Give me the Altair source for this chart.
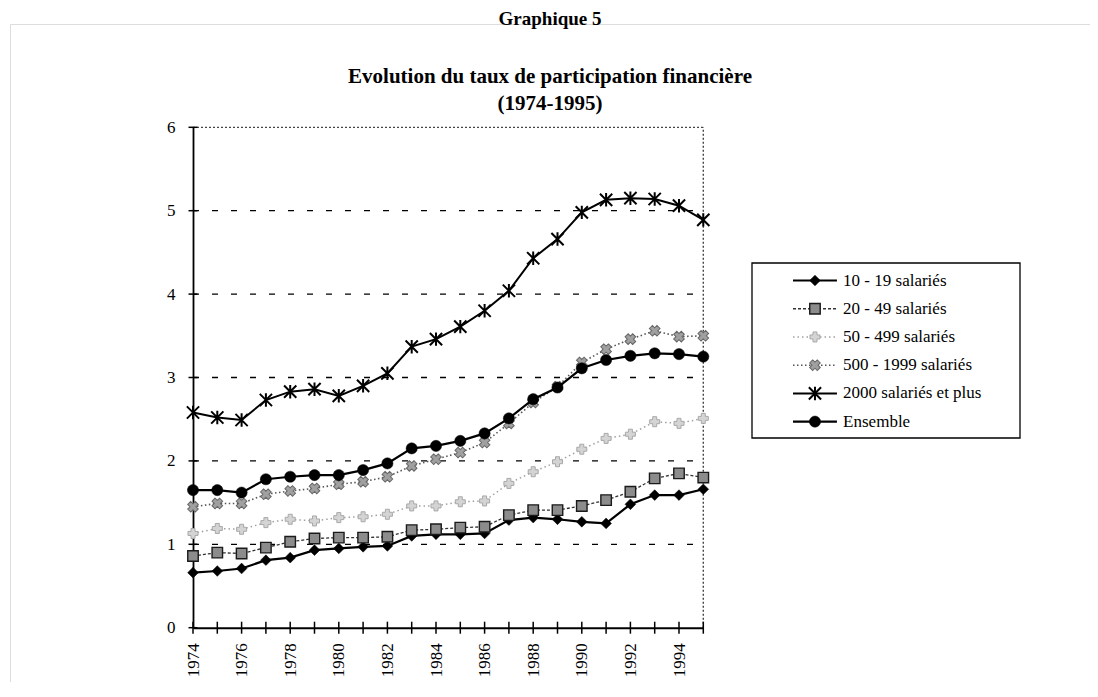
import altair as alt
import pandas as pd

# ---------------- data ----------------
years = list(range(1974, 1996))

series_names = [
    "10 - 19 salariés",
    "20 - 49 salariés",
    "50 - 499 salariés",
    "500 - 1999 salariés",
    "2000 salariés et plus",
    "Ensemble",
]

v_10_19 = [0.66, 0.68, 0.71, 0.81, 0.84, 0.93, 0.95, 0.97, 0.98, 1.10, 1.12,
           1.12, 1.13, 1.29, 1.32, 1.30, 1.27, 1.25, 1.48, 1.59, 1.59, 1.66]
v_20_49 = [0.86, 0.90, 0.89, 0.96, 1.03, 1.07, 1.08, 1.08, 1.09, 1.17, 1.18,
           1.20, 1.21, 1.35, 1.41, 1.41, 1.46, 1.53, 1.63, 1.79, 1.85, 1.80]
v_50_499 = [1.13, 1.19, 1.18, 1.26, 1.30, 1.28, 1.32, 1.33, 1.36, 1.46, 1.46,
            1.51, 1.52, 1.73, 1.87, 1.99, 2.14, 2.27, 2.32, 2.47, 2.45, 2.51]
v_500_1999 = [1.45, 1.49, 1.49, 1.60, 1.64, 1.67, 1.72, 1.75, 1.81, 1.94, 2.02,
              2.10, 2.22, 2.45, 2.70, 2.89, 3.18, 3.34, 3.46, 3.56, 3.49, 3.50]
v_2000_plus = [2.58, 2.52, 2.49, 2.73, 2.83, 2.86, 2.78, 2.90, 3.05, 3.37, 3.46,
               3.61, 3.80, 4.04, 4.43, 4.66, 4.98, 5.13, 5.15, 5.14, 5.06, 4.89]
v_ensemble = [1.65, 1.65, 1.62, 1.78, 1.81, 1.83, 1.83, 1.89, 1.97, 2.15, 2.18,
              2.24, 2.33, 2.51, 2.74, 2.88, 3.11, 3.21, 3.26, 3.29, 3.28, 3.25]

y_ticks = [0, 1, 2, 3, 4, 5, 6]
grid_values = [1, 2, 3, 4, 5]
x_label_years = list(range(1974, 1995, 2))

title_main = "Graphique 5"
title_lines = ["Evolution du taux de participation financière", "(1974-1995)"]

series_values = [v_10_19, v_20_49, v_50_499, v_500_1999, v_2000_plus, v_ensemble]

rows = []
for name, vals in zip(series_names, series_values):
    for yr, v in zip(years, vals):
        rows.append({"year": yr, "value": v, "series": name})
df = pd.DataFrame(rows)

# ---------------- layout ----------------
FONT = "Liberation Serif"
W, H = 1080, 658
X_RANGE = [183, 693.3]
Y_RANGE = [603.7, 103.3]
LX_RANGE = [742, 1010]
LY_RANGE = [239, 414]
B = 630  # visible part of the bottom frame line

xs = alt.Scale(domain=[years[0], years[-1]], range=X_RANGE, nice=False, zero=False)
ys = alt.Scale(domain=[y_ticks[0], y_ticks[-1]], range=Y_RANGE, nice=False)
lxs = alt.Scale(domain=[0, 1], range=LX_RANGE, nice=False, zero=False)
lys = alt.Scale(domain=[0, 1], range=LY_RANGE, nice=False, zero=False)

x_axis = alt.Axis(values=x_label_years, format="d", labelAngle=270,
                  labelFont=FONT, labelFontSize=17, labelColor="black",
                  ticks=False, domainColor="black", domainWidth=2, grid=False,
                  title=None, offset=-(H - Y_RANGE[0]), labelPadding=15,
                  labelOverlap=False, labelFlush=False)
y_axis = alt.Axis(values=y_ticks, format="d", labelFont=FONT, labelFontSize=17,
                  labelColor="black", ticks=False, domainColor="black",
                  domainWidth=1.8, grid=False, title=None, offset=-X_RANGE[0],
                  labelPadding=18, labelFlush=False, labelOverlap=False)


def X(field):
    return alt.X(field, type="quantitative", scale=xs, axis=x_axis)


def Y(field):
    return alt.Y(field, type="quantitative", scale=ys, axis=y_axis)


ASTERISK = "M-1,-1L1,1M-1,1L1,-1M0,-1.1L0,1.1"

styles = {
    "10 - 19 salariés": dict(
        line=dict(color="black", strokeWidth=2.2),
        point=dict(shape="diamond", size=115, fill="black", stroke="black",
                   strokeWidth=0.5, filled=True, opacity=1)),
    "20 - 49 salariés": dict(
        line=dict(color="#333333", strokeWidth=1.3, strokeDash=[3, 2]),
        point=dict(shape="square", size=110, fill="#8c8c8c", stroke="#1a1a1a",
                   strokeWidth=1.4, filled=True, opacity=1)),
    "50 - 499 salariés": dict(
        line=dict(color="#a0a0a0", strokeWidth=1.5, strokeDash=[1.5, 3]),
        point=dict(shape="cross", size=100, fill="#d4d4d4", stroke="#a8a8a8",
                   strokeWidth=1, filled=True, opacity=1)),
    "500 - 1999 salariés": dict(
        line=dict(color="#555555", strokeWidth=1.6, strokeDash=[1.5, 2.5]),
        point=dict(shape="cross", angle=45, size=115, fill="#a0a0a0",
                   stroke="#666666", strokeWidth=1, filled=True, opacity=1)),
    "2000 salariés et plus": dict(
        line=dict(color="black", strokeWidth=2),
        point=dict(shape=ASTERISK, size=150, stroke="black", strokeWidth=2,
                   filled=False, opacity=1)),
    "Ensemble": dict(
        line=dict(color="black", strokeWidth=2.2),
        point=dict(shape="circle", size=125, fill="black", stroke="black",
                   strokeWidth=0.5, filled=True, opacity=1)),
}

# ---------------- plot layers ----------------
grid_df = pd.DataFrame({"v": grid_values, "x0": years[0], "x1": years[-1]})
grid = alt.Chart(grid_df).mark_rule(color="black", strokeWidth=1.3,
                                    strokeDash=[6, 13]).encode(
    x=X("x0"), x2="x1", y=Y("v"))

top_df = pd.DataFrame({"v": [y_ticks[-1]], "x0": [years[0]], "x1": [years[-1]]})
border_top = alt.Chart(top_df).mark_rule(color="#444444", strokeWidth=1.2,
                                         strokeDash=[2, 2]).encode(
    x=X("x0"), x2="x1", y=Y("v"))
right_df = pd.DataFrame({"x": [years[-1]], "v0": [y_ticks[0]], "v1": [y_ticks[-1]]})
border_right = alt.Chart(right_df).mark_rule(color="#444444", strokeWidth=1.4,
                                             strokeDash=[2, 2]).encode(
    x=X("x"), y=Y("v0"), y2="v1")

ytick = alt.Chart(pd.DataFrame({"v": y_ticks, "x": years[0]})).mark_tick(
    orient="horizontal", size=9, thickness=1.5, color="black", opacity=1).encode(
    x=X("x"), y=Y("v"))
xtick = alt.Chart(pd.DataFrame({"year": years, "v": y_ticks[0]})).mark_tick(
    orient="vertical", size=12, thickness=1.5, color="black", opacity=1).encode(
    x=X("year"), y=Y("v"))

series_layers = []
for name in series_names:
    sub = df[df["series"] == name]
    st = styles[name]
    series_layers.append(
        alt.Chart(sub).mark_line(**st["line"]).encode(x=X("year"), y=Y("value")))
    series_layers.append(
        alt.Chart(sub).mark_point(**st["point"]).encode(x=X("year"), y=Y("value")))

plot_layer = alt.layer(grid, border_top, border_right, *series_layers, ytick, xtick)

# ---------------- legend layers ----------------
one = pd.DataFrame({"a": [0]})
LEG_X0, LEG_X1, LEG_XM, LEG_XT = 0.153, 0.317, 0.235, 0.34

box = alt.Chart(one).mark_rect(filled=False, stroke="black", strokeWidth=1.3).encode(
    x=alt.XDatum(0, type="quantitative", scale=lxs, axis=None),
    x2=alt.X2Datum(1),
    y=alt.YDatum(0, type="quantitative", scale=lys, axis=None),
    y2=alt.Y2Datum(1))

legend_marks = []
legend_rows = []
for i, name in enumerate(series_names):
    ly = (i + 0.62) / 6.2
    legend_rows.append({"name": name, "ly": ly})
    st = styles[name]
    legend_marks.append(
        alt.Chart(one).mark_rule(**st["line"]).encode(
            x=alt.XDatum(LEG_X0, type="quantitative", scale=lxs, axis=None),
            x2=alt.X2Datum(LEG_X1),
            y=alt.YDatum(ly, type="quantitative", scale=lys, axis=None)))
    legend_marks.append(
        alt.Chart(one).mark_point(**st["point"]).encode(
            x=alt.XDatum(LEG_XM, type="quantitative", scale=lxs, axis=None),
            y=alt.YDatum(ly, type="quantitative", scale=lys, axis=None)))

legend_df = pd.DataFrame(legend_rows)
legend_text = alt.Chart(legend_df).mark_text(
    align="left", baseline="middle", font=FONT, fontSize=17, color="black").encode(
    x=alt.XDatum(LEG_XT, type="quantitative", scale=lxs, axis=None),
    y=alt.Y("ly:Q", scale=lys, axis=None),
    text="name:N")

legend_layer = alt.layer(box, *legend_marks, legend_text)

chart = alt.layer(plot_layer, legend_layer).resolve_scale(
    x="independent", y="independent"
).properties(
    width=W, height=H,
    autosize=alt.AutoSizeParams(type="none"),
    padding={"left": 2, "top": 16, "right": 0, "bottom": 0},
    title=alt.TitleParams(
        text=title_main, subtitle=title_lines, anchor="middle", frame="group",
        font=FONT, fontSize=19, fontWeight="bold", color="black",
        subtitleFont=FONT, subtitleFontSize=21, subtitleFontWeight="bold",
        subtitleColor="black", subtitleLineHeight=27, subtitlePadding=37,
        offset=-90),
).configure_view(
    stroke="black", strokeWidth=1.5,
    strokeDash=[W, H + W - B, B + H],
).configure(font=FONT)

chart.save("out.html", embed_options={"renderer": "svg", "actions": False})
